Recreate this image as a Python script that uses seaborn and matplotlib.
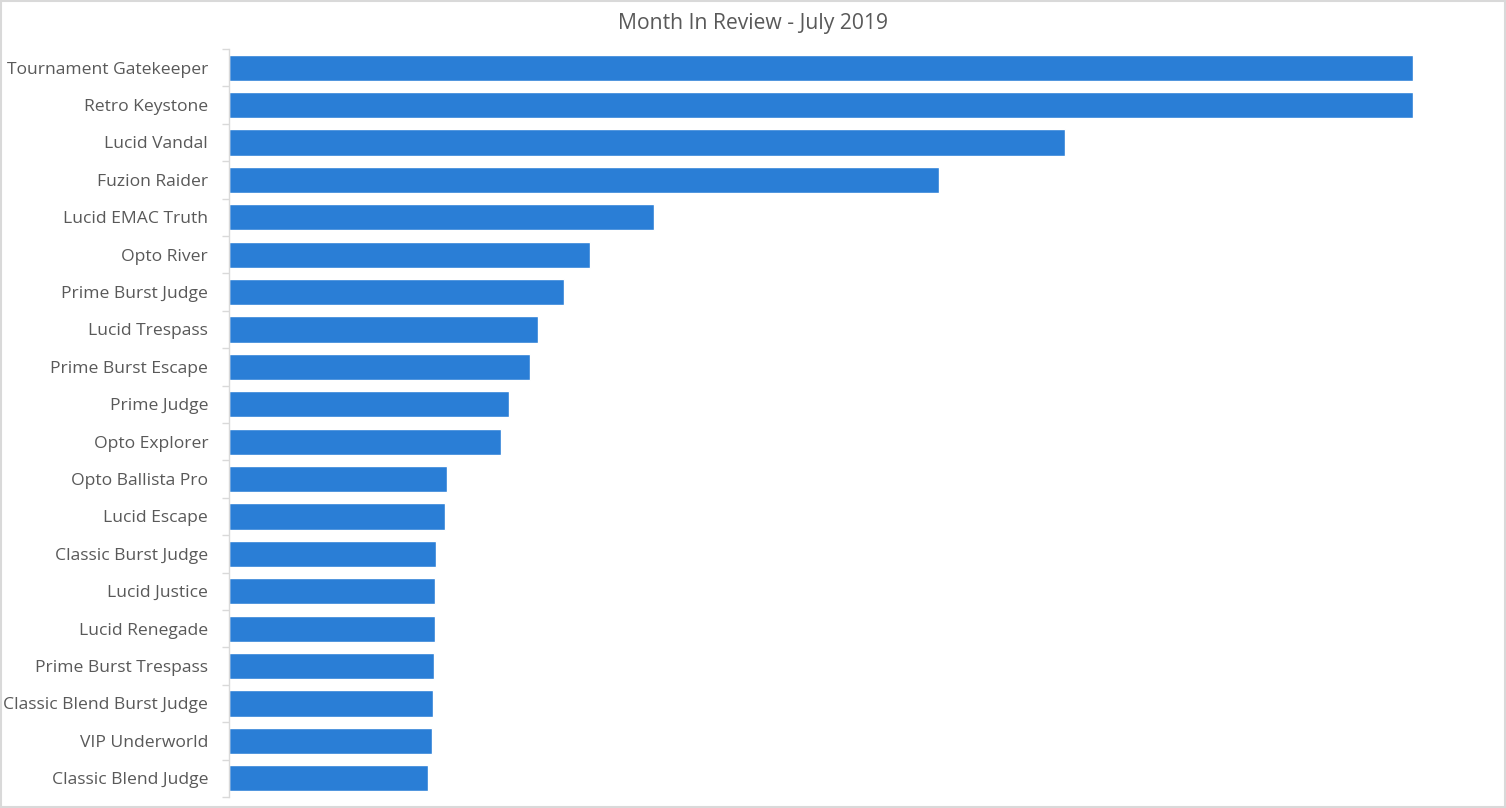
import matplotlib
matplotlib.use('Agg')
import matplotlib.pyplot as plt
import pandas as pd
import seaborn as sns

# bar lengths (no value axis shown)
names = ['Tournament Gatekeeper', 'Retro Keystone', 'Lucid Vandal',
         'Fuzion Raider', 'Lucid EMAC Truth', 'Opto River',
         'Prime Burst Judge', 'Lucid Trespass', 'Prime Burst Escape',
         'Prime Judge', 'Opto Explorer', 'Opto Ballista Pro', 'Lucid Escape',
         'Classic Burst Judge', 'Lucid Justice', 'Lucid Renegade',
         'Prime Burst Trespass', 'Classic Blend Burst Judge',
         'VIP Underworld', 'Classic Blend Judge']
values = [1184, 1184, 836, 710, 425, 361, 335, 309, 301, 280, 272, 218, 216,
          207, 206, 206, 205, 204, 203, 199]

sns.set_theme(style='white')
plt.rcParams['font.family'] = ['Open Sans', 'DejaVu Sans']

df = pd.DataFrame({'name': names, 'value': values})

fig = plt.figure(figsize=(15.06, 8.08), dpi=100)
ax = fig.add_axes([229 / 1506, 11 / 808, (1413 - 229) / 1506, 748 / 808])
sns.barplot(data=df, y='name', x='value', color='#2a7ed6', width=0.7,
            saturation=1, ax=ax)

ax.set_xlim(0, max(values))
ax.set_ylim(len(names) - 0.5, -0.5)
ax.set_xlabel('')
ax.set_ylabel('')
ax.set_xticks([])
for s in ['top', 'right', 'bottom']:
    ax.spines[s].set_visible(False)
ax.spines['left'].set_color('#d9d9d9')
ax.spines['left'].set_linewidth(1)

# excel style ticks between categories
ax.set_yticks([i - 0.5 for i in range(len(names) + 1)], minor=True)
ax.tick_params(axis='y', which='minor', length=5, color='#d9d9d9', width=1,
               left=True)
ax.tick_params(axis='y', which='major', length=0, pad=15,
               labelsize=12.6, labelcolor='#595959')

fig.text(0.5, 1 - 23 / 808, 'Month In Review - July 2019', ha='center',
         va='center', fontsize=15.2, color='#595959')

# light border round the chart area
fig.patches.append(plt.Rectangle((0.0005, 0.001), 0.999, 0.998,
                                 transform=fig.transFigure, fill=False,
                                 edgecolor='#d9d9d9', linewidth=1.5))

fig.savefig('out.png', dpi=100)
